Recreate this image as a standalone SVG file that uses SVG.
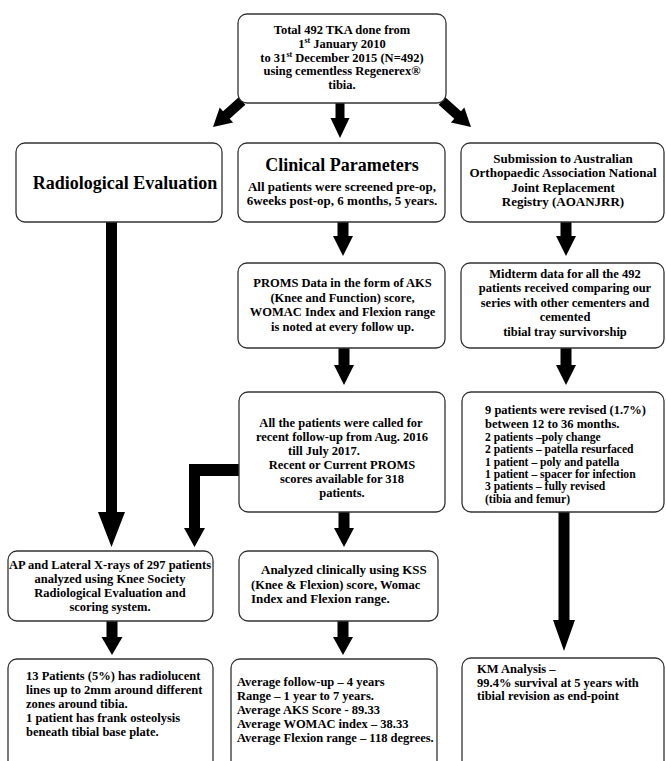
<svg xmlns="http://www.w3.org/2000/svg" width="666" height="761" viewBox="0 0 666 761">
<style>
.box{fill:#fff;stroke:#333;stroke-width:1.3}
text{font-family:"Liberation Serif","Times New Roman",serif;font-weight:bold;font-size:12.5px;fill:#000}
.c{text-anchor:middle}
.h{font-size:18px}
.m{font-size:13px}
.s{font-size:11.6px}
.arr{fill:#000}
</style>
<rect width="666" height="761" fill="#fff"/>
<g id="connectors" class="arr">
  <polygon points="335.5,103 344.5,103 344.5,118 349.5,118 340,138 330.5,118 335.5,118"/>
  <polygon points="-5,0 5,0 5,21 10,21 0,39 -10,21 -5,21" transform="translate(242,101) rotate(48)"/>
  <polygon points="-5,0 5,0 5,21 10,21 0,39 -10,21 -5,21" transform="translate(442,101) rotate(-48)"/>
  <polygon points="337.5,222 348.5,222 348.5,236 353,236 343,256 333,236 337.5,236"/>
  <polygon points="560.5,222 571.5,222 571.5,236 576,236 566,256 556,236 560.5,236"/>
  <polygon points="338.5,348 349.5,348 349.5,365 354,365 344,385 334,365 338.5,365"/>
  <polygon points="560.5,348 571.5,348 571.5,365 576,365 566,385 556,365 560.5,365"/>
  <polygon points="106,222 117,222 117,512 125,512 111.5,547 98,512 106,512"/>
  <polygon points="239,464 239,476 200,476 200,528 205,528 194.5,547 184,528 189,528 189,464"/>
  <polygon points="338.5,512 349.5,512 349.5,528 354,528 344,547 334,528 338.5,528"/>
  <polygon points="558.5,512 569.5,512 569.5,620 575,620 564,651 553,620 558.5,620"/>
  <polygon points="106.5,621 117.5,621 117.5,637 122.5,637 112,655 101.5,637 106.5,637"/>
  <polygon points="337.5,621 348.5,621 348.5,637 353,637 343,655 333,637 337.5,637"/>
</g>
<g id="n-total">
  <rect class="box" x="238" y="14" width="208" height="89" rx="9"/>
  <text class="c" x="342" y="34">Total 492 TKA done from</text>
  <text class="c" x="342" y="47.8">1<tspan font-size="8" dy="-5">st</tspan><tspan dy="5"> January 2010</tspan></text>
  <text class="c" x="342" y="61.5">to 31<tspan font-size="8" dy="-5">st</tspan><tspan dy="5"> December 2015 (N=492)</tspan></text>
  <text class="c" x="342" y="75.3">using cementless Regenerex®</text>
  <text class="c" x="342" y="89">tibia.</text>
</g>
<g id="n-radio">
  <rect class="box" x="16" y="143" width="206" height="79" rx="9"/>
  <text class="c h" x="125" y="189">Radiological Evaluation</text>
</g>
<g id="n-clinical">
  <rect class="box" x="238" y="143" width="207" height="79" rx="9"/>
  <text class="c h" x="342" y="171">Clinical Parameters</text>
  <text class="c m" x="342" y="190.5">All patients were screened pre-op,</text>
  <text class="c m" x="342" y="204.8">6weeks post-op, 6 months, 5 years.</text>
</g>
<g id="n-submission">
  <rect class="box" x="461" y="143" width="203" height="79" rx="9"/>
  <text class="c m" x="563" y="163">Submission to Australian</text>
  <text class="c m" x="563" y="177.3">Orthopaedic Association National</text>
  <text class="c m" x="563" y="191.6">Joint Replacement</text>
  <text class="c m" x="563" y="206">Registry (AOANJRR)</text>
</g>
<g id="n-proms">
  <rect class="box" x="238" y="263" width="207" height="85" rx="9"/>
  <text class="c" x="342.5" y="287" font-size="12.3">PROMS Data in the form of AKS</text>
  <text class="c" x="342.5" y="301.5" font-size="12.3">(Knee and Function) score,</text>
  <text class="c" x="342.5" y="316" font-size="12.3">WOMAC Index and Flexion range</text>
  <text class="c" x="342.5" y="330.5" font-size="12.3">is noted at every follow up.</text>
</g>
<g id="n-midterm">
  <rect class="box" x="461" y="263" width="203" height="85" rx="9"/>
  <text class="c" x="565" y="278" font-size="13.6">Midterm data for all the 492</text>
  <text class="c" x="565" y="292.4" font-size="13.6">patients received comparing our</text>
  <text class="c" x="565" y="306.8" font-size="13.6">series with other cementers and</text>
  <text class="c" x="565" y="321.2" font-size="13.6">cemented</text>
  <text class="c" x="565" y="335.6" font-size="13.6">tibial tray survivorship</text>
</g>
<g id="n-recall">
  <rect class="box" x="239" y="392" width="206" height="120" rx="9"/>
  <text class="c" x="341" y="427">All the patients were called for</text>
  <text class="c" x="342" y="441">recent follow-up from Aug. 2016</text>
  <text class="c" x="324" y="455">till July 2017.</text>
  <text class="c" x="342" y="469">Recent or Current PROMS</text>
  <text class="c" x="342" y="483">scores available for 318</text>
  <text class="c" x="342" y="497">patients.</text>
</g>
<g id="n-revised">
  <rect class="box" x="462" y="392" width="202" height="120" rx="9"/>
  <text x="485" y="414" font-size="13.3">9 patients were revised (1.7%)</text>
  <text x="485" y="428" font-size="13.3">between 12 to 36 months.</text>
  <text x="485" y="441" class="s">2 patients –poly change</text>
  <text x="485" y="453.3" class="s">2 patients – patella resurfaced</text>
  <text x="485" y="465.6" class="s">1 patient – poly and patella</text>
  <text x="485" y="477.9" class="s">1 patient – spacer for infection</text>
  <text x="485" y="490.2" class="s">3 patients – fully revised</text>
  <text x="485" y="502.5" class="s">(tibia and femur)</text>
</g>
<g id="n-xray">
  <rect class="box" x="8" y="551" width="205" height="70" rx="9"/>
  <text class="c" x="110" y="569">AP and Lateral X-rays of 297 patients</text>
  <text class="c" x="110" y="583">analyzed using Knee Society</text>
  <text class="c" x="110" y="597">Radiological Evaluation and</text>
  <text class="c" x="110" y="611">scoring system.</text>
</g>
<g id="n-analyzed">
  <rect class="box" x="239" y="551" width="199" height="70" rx="9"/>
  <text x="261" y="574" class="m">Analyzed clinically using KSS</text>
  <text x="251" y="588.5" font-size="13.5">(Knee &amp; Flexion) score, Womac</text>
  <text x="251" y="603" class="m">Index and Flexion range.</text>
</g>
<g id="n-radresult">
  <rect class="box" x="8" y="659" width="205" height="130" rx="9"/>
  <text x="26" y="680" font-size="12.8">13 Patients (5%) has radiolucent</text>
  <text x="26" y="694.1" font-size="12.8">lines up to 2mm around different</text>
  <text x="26" y="708.2" font-size="12.8">zones around tibia.</text>
  <text x="26" y="722.3" font-size="12.8">1 patient has frank osteolysis</text>
  <text x="26" y="736.4" font-size="12.8">beneath tibial base plate.</text>
</g>
<g id="n-clinresult">
  <rect class="box" x="231" y="659" width="206" height="130" rx="9"/>
  <text x="237" y="686" font-size="12.8">Average follow-up – 4 years</text>
  <text x="237" y="700.1" font-size="12.8">Range – 1 year to 7 years.</text>
  <text x="237" y="714.2" font-size="12.8">Average AKS Score - 89.33</text>
  <text x="237" y="728.3" font-size="12.8">Average WOMAC index – 38.33</text>
  <text x="237" y="742.4" font-size="12.8">Average Flexion range – 118 degrees.</text>
</g>
<g id="n-km">
  <rect class="box" x="462" y="658" width="202" height="130" rx="9"/>
  <text x="477" y="673" font-size="12.3">KM Analysis –</text>
  <text x="477" y="686.6" font-size="12.3">99.4% survival at 5 years with</text>
  <text x="477" y="700.2" font-size="12.3">tibial revision as end-point</text>
</g>
</svg>
